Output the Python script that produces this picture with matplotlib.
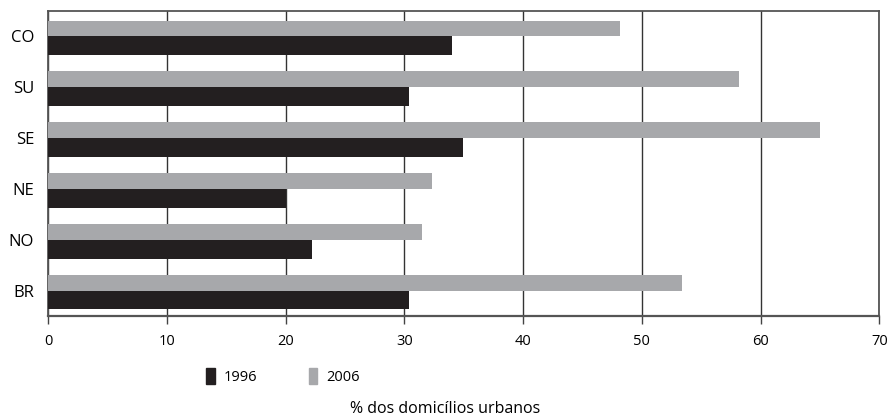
import matplotlib
matplotlib.use("Agg")
import matplotlib.pyplot as plt
from matplotlib.patches import Patch

# dados (% dos domicilios urbanos)
regioes = ["BR", "NO", "NE", "SE", "SU", "CO"]
v1996 = [30.4, 22.2, 20.0, 34.9, 30.4, 34.0]
v2006 = [53.4, 31.5, 32.3, 65.0, 58.2, 48.2]

PRETO = "#231f20"
CINZA = "#a7a8ab"

plt.rcParams["font.family"] = ["Open Sans", "DejaVu Sans"]

fig = plt.figure(figsize=(8.9, 4.18), dpi=100)
ax = fig.add_axes([0.054, 0.244, 0.934, 0.73])

y = list(range(len(regioes)))
ax.barh(y, v2006, height=0.31, align="edge", color=CINZA, zorder=3)
ax.barh(y, v1996, height=-0.37, align="edge", color=PRETO, zorder=3)

ax.set_xlim(0, 70)
ax.set_ylim(-0.5, 5.5)
ax.set_xticks(range(0, 71, 10))
ax.set_yticks(y)
ax.set_yticklabels(regioes, fontsize=12)
ax.tick_params(axis="y", length=0, pad=10)
ax.tick_params(axis="x", length=6, width=1, color="#444444", labelsize=10.5, pad=7)
ax.grid(axis="x", color="#333333", lw=1, zorder=1)

for lado, sp in ax.spines.items():
    sp.set_color("#555555")
    sp.set_linewidth(1.6 if lado == "bottom" else 1.3)

handles = [Patch(color=PRETO, label="1996"), Patch(color=CINZA, label="2006")]
fig.legend(handles=handles, loc="center", bbox_to_anchor=(0.318, 0.1), ncol=2,
           frameon=False, handlelength=0.55, handleheight=1.3, handletextpad=0.6,
           columnspacing=3.6, fontsize=10.5)

fig.text(0.5, 0.022, "% dos domicílios urbanos", ha="center", va="center", fontsize=11.5)

fig.savefig("out.png", dpi=100)
